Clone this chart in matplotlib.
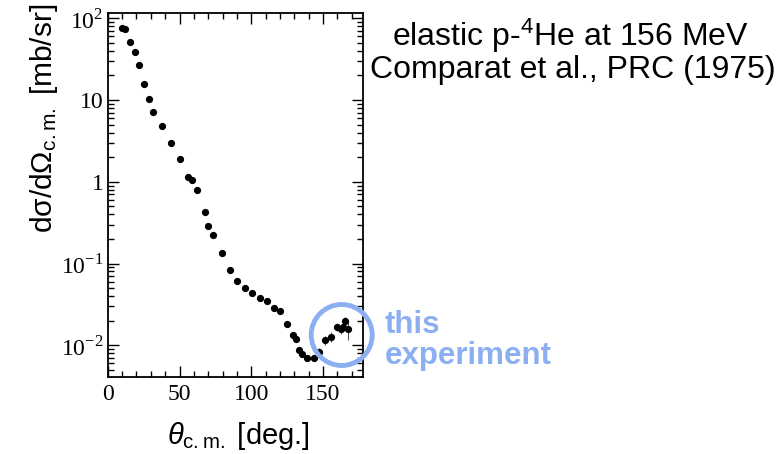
import numpy as np
import matplotlib
matplotlib.use("Agg")
import matplotlib.pyplot as plt
from matplotlib.patches import Ellipse
from matplotlib.ticker import FixedLocator, FixedFormatter, MultipleLocator, LogLocator, NullFormatter

plt.rcParams['font.family'] = ['Liberation Sans', 'DejaVu Sans']
plt.rcParams['mathtext.fontset'] = 'custom'
plt.rcParams['mathtext.rm'] = 'Liberation Serif'
plt.rcParams['mathtext.sf'] = 'Liberation Sans'
plt.rcParams['mathtext.it'] = 'Liberation Sans:italic'

# p-4He elastic, 156 MeV
theta = [10.2, 12.3, 15.6, 18.8, 22.1, 25.3, 28.4, 31.6, 37.9, 44.0, 50.0, 56.0, 58.6, 62.1,
         67.9, 70.2, 73.5, 79.3, 84.9, 90.2, 95.3, 100.7, 105.8, 110.9, 115.6, 120.2,
         124.7, 129.1, 131.4, 133.3, 135.4, 139.1, 143.5, 147.5, 151.6, 155.4, 159.5,
         162.3, 164.0, 165.6, 167.7]
xsec = [75.5, 73.0, 51.8, 38.7, 26.6, 15.9, 10.3, 7.1, 4.85, 2.95, 1.88, 1.16, 1.05, 0.79,
        0.43, 0.287, 0.221, 0.134, 0.0838, 0.061, 0.0504, 0.0434, 0.0377, 0.0346, 0.0287, 0.0261,
        0.018, 0.0132, 0.0118, 0.0087, 0.0079, 0.0070, 0.0070, 0.0084, 0.0115, 0.0126, 0.0168,
        0.0157, 0.0168, 0.0197, 0.0157]
rel_err = [0.03] * 26 + [0.07, 0.07, 0.07, 0.08, 0.08, 0.09, 0.09, 0.10, 0.12, 0.14, 0.12,
                         0.12, 0.12, 0.14, 0.25]

ytick_vals = [1e-2, 1e-1, 1, 10, 100]
ytick_labels = [r'$10^{-2}$', r'$10^{-1}$', '1', '10', r'$10^{2}$']

blue = '#8caff2'

fig = plt.figure(figsize=(7.81, 4.54), dpi=100)
ax = fig.add_axes([0.138, 0.1696, 0.327, 0.8018])

err = np.array(xsec) * np.array(rel_err)
ax.errorbar(theta, xsec, yerr=err, fmt='o', color='black', ms=4.2,
            ecolor='#555555', elinewidth=0.8, capsize=0)

ax.set_yscale('log')
ax.set_xlim(0, 178)
ax.set_ylim(0.0041, 116)

ax.xaxis.set_major_locator(MultipleLocator(50))
ax.xaxis.set_minor_locator(MultipleLocator(10))
ax.yaxis.set_major_locator(FixedLocator(ytick_vals))
ax.yaxis.set_major_formatter(FixedFormatter(ytick_labels))
ax.yaxis.set_minor_locator(LogLocator(base=10, subs=np.arange(2, 10)))
ax.yaxis.set_minor_formatter(NullFormatter())

ax.tick_params(which='both', direction='in', top=True, right=True, width=1)
ax.tick_params(which='major', length=8)
ax.tick_params(which='minor', length=4)
ax.tick_params(axis='y', pad=3)
ax.tick_params(axis='x', pad=5)
for lbl in ax.get_xticklabels() + ax.get_yticklabels():
    lbl.set_fontfamily('Liberation Serif')
    lbl.set_fontsize(17)
for sp in ax.spines.values():
    sp.set_linewidth(1.3)

fig.text(44 / 781, 1 - 118 / 454, r'd$\mathsf{\sigma}$/d$\mathsf{\Omega_{c.m.}}$ [mb/sr]',
         rotation=90, ha='center', va='center', fontsize=21.5)
fig.text(238 / 781, 1 - 436 / 454, r'$\theta_{\mathsf{c.m.}}$ [deg.]',
         ha='center', va='center', fontsize=21)

fig.text(570 / 781, 1 - 46 / 454, r'elastic p-$^{\mathsf{4}}$He at 156 MeV',
         ha='center', va='baseline', fontsize=23)
fig.text(573 / 781, 1 - 78 / 454, 'Comparat et al., PRC (1975)',
         ha='center', va='baseline', fontsize=23)

ring = Ellipse((341.7 / 781, 1 - 335 / 454), 61 / 781, 61 / 454, transform=fig.transFigure,
               fill=False, edgecolor=blue, linewidth=3.5)
fig.patches.append(ring)

fig.text(385 / 781, 1 - 333 / 454, 'this', color=blue, fontsize=22.5, fontweight='bold',
         va='baseline', ha='left')
fig.text(385 / 781, 1 - 364 / 454, 'experiment', color=blue, fontsize=22.5, fontweight='bold',
         va='baseline', ha='left')

fig.savefig('out.png', dpi=100)
